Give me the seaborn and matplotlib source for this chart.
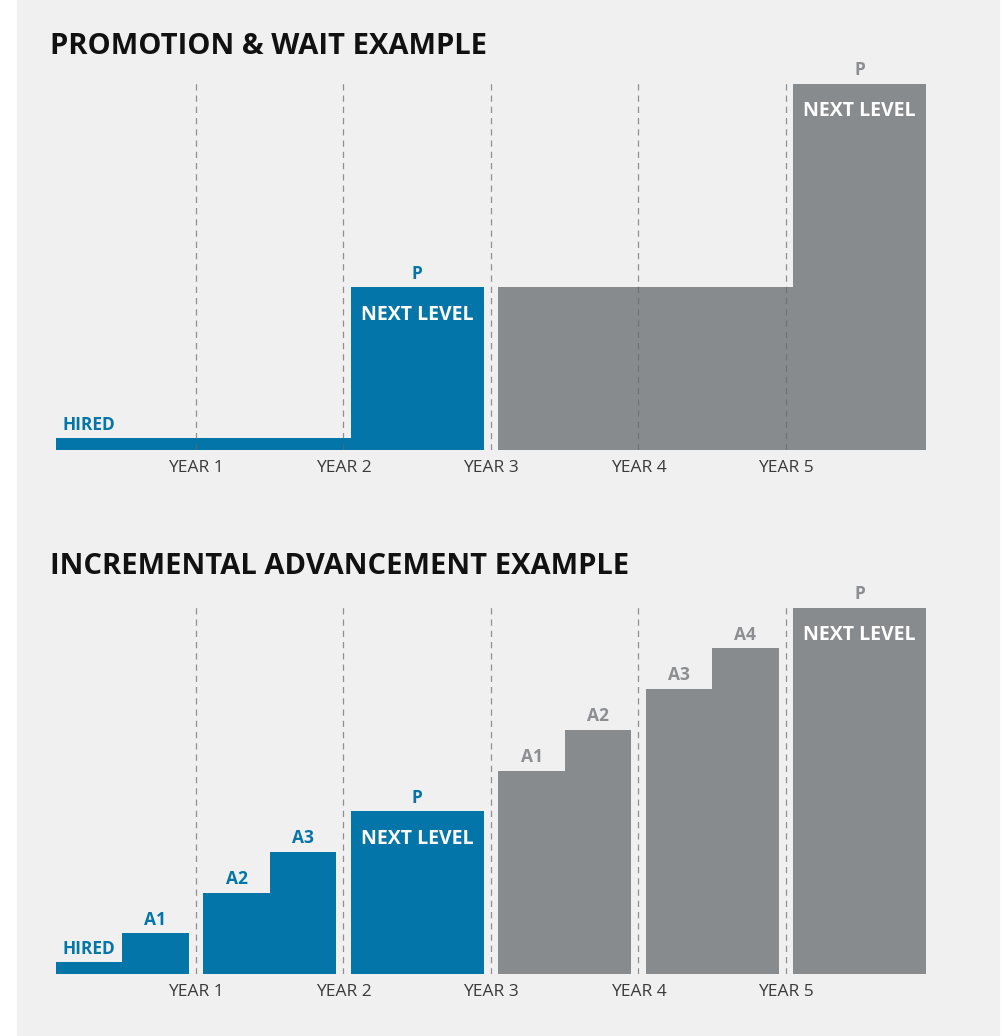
import matplotlib
matplotlib.use("Agg")
import matplotlib.pyplot as plt
from matplotlib.patches import Rectangle
import seaborn as sns

# data: bar edges in years, heights in "levels"
years = [1, 2, 3, 4, 5]
year_labels = ['YEAR 1', 'YEAR 2', 'YEAR 3', 'YEAR 4', 'YEAR 5']

wait_x0 = [0.05, 2.05, 3.05, 5.05]
wait_x1 = [2.05, 2.95, 5.05, 5.95]
wait_h = [0.3, 4, 4, 9]
wait_lab = ['HIRED', 'P', '', 'P']

inc_x0 = [0.05, 0.5, 1.05, 1.5, 2.05, 3.05, 3.5, 4.05, 4.5, 5.05]
inc_x1 = [0.5, 0.95, 1.5, 1.95, 2.95, 3.5, 3.95, 4.5, 4.95, 5.95]
inc_h = [0.3, 1, 2, 3, 4, 5, 6, 7, 8, 9]
inc_lab = ['HIRED', 'A1', 'A2', 'A3', 'P', 'A1', 'A2', 'A3', 'A4', 'P']

BLUE = '#0375a8'
GRAY = '#888b8e'
GRAY_TXT = '#8c8e91'
BG = '#f0f0f0'

sns.set_style('white')
plt.rcParams['font.family'] = ['Open Sans', 'DejaVu Sans']

W, H = 1003, 1036
fig = plt.figure(figsize=(W / 100, H / 100), dpi=100, facecolor='white')
fig.add_artist(Rectangle((17 / W, 0), (999 - 17) / W, 1, transform=fig.transFigure,
                         color=BG, zorder=-10))

UNIT = 40.7       # px per level
X0_PX, YEAR_PX = 48.5, 147.5


def make_ax(base_px, top_px):
    left, right = 17, 999
    ax = fig.add_axes([left / W, 1 - base_px / H, (right - left) / W, (base_px - top_px) / H])
    ax.set_facecolor('none')
    ax.set_xlim((left - X0_PX) / YEAR_PX, (right - X0_PX) / YEAR_PX)
    ax.set_ylim(0, (base_px - top_px) / UNIT)
    sns.despine(ax=ax, left=True, bottom=True)
    ax.set_yticks([])
    ax.set_xticks(years)
    ax.set_xticklabels(year_labels, fontsize=12.5, color='#3a3a3a')
    ax.tick_params(axis='x', length=0, pad=7)
    ax.vlines(years, 0, 9.08, colors='#666666', alpha=0.7, linewidth=0.9,
              linestyles=(0, (5, 4)), zorder=3)
    return ax


def draw(ax, x0, x1, h, labels):
    for a, b, v, lab in zip(x0, x1, h, labels):
        col = BLUE if a < 3 else GRAY
        tcol = BLUE if a < 3 else GRAY_TXT
        ax.bar(a, v, width=b - a, align='edge', color=col, linewidth=0, zorder=2)
        if lab == 'HIRED':
            ax.annotate(lab, (a, v), xytext=(4.5, 9.5), textcoords='offset points',
                        ha='left', va='center', fontsize=12.5, fontweight='bold', color=tcol)
        elif lab:
            ax.annotate(lab, ((a + b) / 2, v), xytext=(0, 9.8), textcoords='offset points',
                        ha='center', va='center', fontsize=12.5, fontweight='bold', color=tcol)
        if lab == 'P':
            ax.annotate('NEXT LEVEL', ((a + b) / 2, v), xytext=(0, -20),
                        textcoords='offset points', ha='center', va='center',
                        fontsize=14, fontweight='bold', color='white', zorder=4)


ax1 = make_ax(450, 60)
draw(ax1, wait_x0, wait_x1, wait_h, wait_lab)
ax2 = make_ax(974, 590)
draw(ax2, inc_x0, inc_x1, inc_h, inc_lab)

fig.text(50 / W, 1 - 47 / H, 'PROMOTION & WAIT EXAMPLE', fontsize=21, fontweight='bold',
         color='#111111', va='center', ha='left')
fig.text(50 / W, 1 - 566 / H, 'INCREMENTAL ADVANCEMENT EXAMPLE', fontsize=21,
         fontweight='bold', color='#111111', va='center', ha='left')

fig.savefig('out.png', dpi=100, facecolor=fig.get_facecolor())
